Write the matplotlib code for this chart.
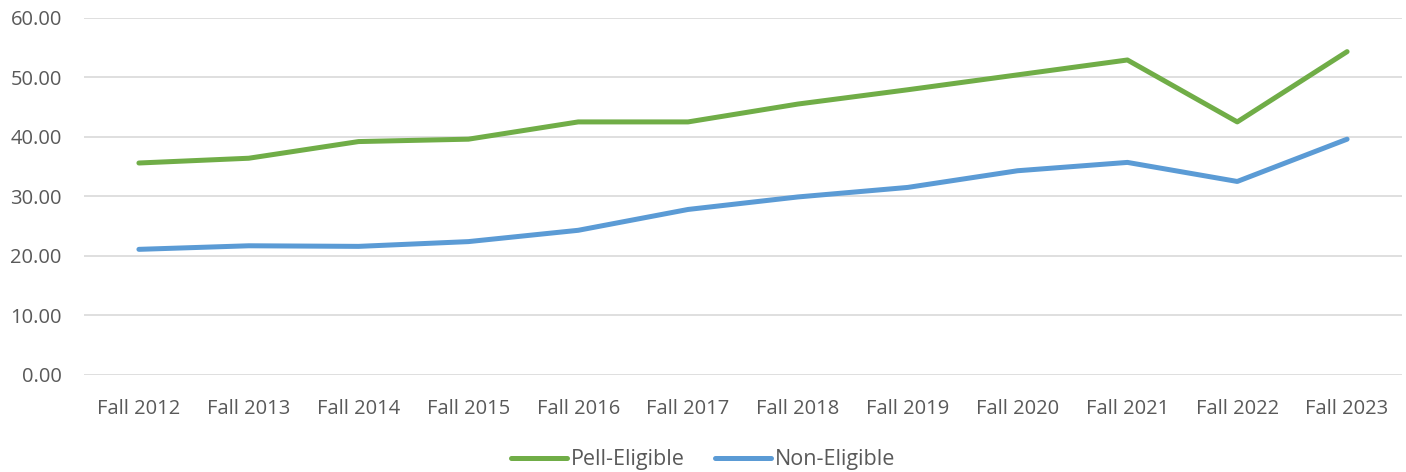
import matplotlib.pyplot as plt

plt.rcParams['font.family'] = ['Open Sans', 'DejaVu Sans']

terms = ['Fall 2012', 'Fall 2013', 'Fall 2014', 'Fall 2015', 'Fall 2016', 'Fall 2017',
         'Fall 2018', 'Fall 2019', 'Fall 2020', 'Fall 2021', 'Fall 2022', 'Fall 2023']
pell = [35.6, 36.4, 39.2, 39.6, 42.5, 42.5, 45.5, 47.9, 50.4, 52.9, 42.5, 54.3]
non_pell = [21.1, 21.7, 21.6, 22.4, 24.3, 27.8, 29.9, 31.5, 34.3, 35.7, 32.5, 39.6]

GREEN = '#70ad47'
BLUE = '#5b9bd5'
TEXT = '#595959'

fig = plt.figure(figsize=(14.06, 4.72), dpi=100)
ax = fig.add_axes([84 / 1406, 97 / 472, 1318 / 1406, 357.3 / 472])

x = range(len(terms))
ax.plot(x, pell, color=GREEN, linewidth=3.6, solid_capstyle='round', label='Pell-Eligible')
ax.plot(x, non_pell, color=BLUE, linewidth=3.6, solid_capstyle='round', label='Non-Eligible')

ax.set_xlim(-0.5, len(terms) - 0.5)
ax.set_ylim(0, 60)
ax.set_yticks(range(0, 61, 10))
ax.set_yticklabels([f'{v:.2f}' for v in range(0, 61, 10)])
ax.set_xticks(list(x))
ax.set_xticklabels(terms)

ax.grid(axis='y', color='#d9d9d9', linewidth=1.2)
ax.set_axisbelow(True)
for s in ax.spines.values():
    s.set_visible(False)
ax.tick_params(length=0, labelsize=14.5, colors=TEXT)
ax.tick_params(axis='y', pad=16)
ax.tick_params(axis='x', pad=17)

leg = fig.legend(loc='center', bbox_to_anchor=(0.5, 12 / 472), ncol=2, frameon=False,
                 fontsize=15.5, handlelength=2.6, handletextpad=0.2, columnspacing=1.4)
for t in leg.get_texts():
    t.set_color(TEXT)

fig.savefig('out.png', dpi=100)
